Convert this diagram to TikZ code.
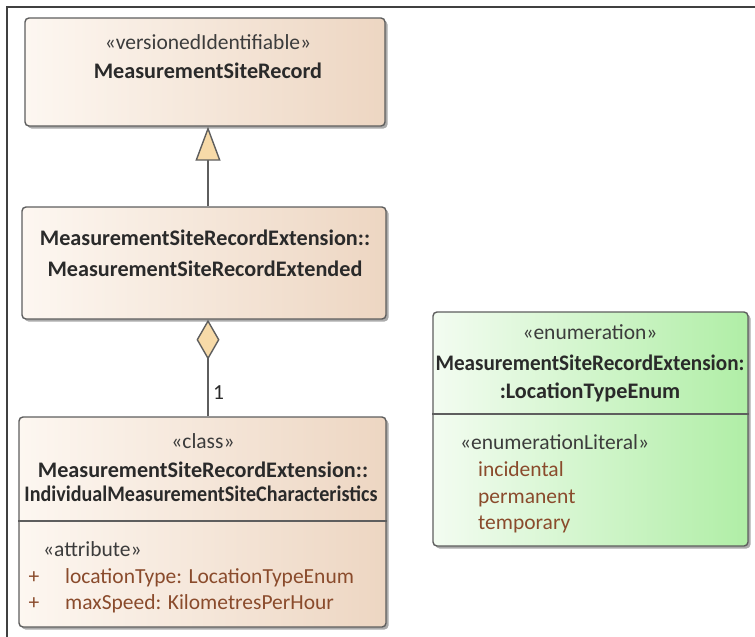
\documentclass[tikz,border=0pt]{standalone}
\usepackage{fontspec}
\setmainfont{Carlito}
\usepackage{graphicx}
\usetikzlibrary{arrows.meta,shadows}
\definecolor{tanL}{HTML}{FDF7F1}
\definecolor{tanR}{HTML}{EDD6C2}
\definecolor{grnL}{HTML}{F3FCF1}
\definecolor{grnR}{HTML}{B0EEA6}
\definecolor{bord}{HTML}{5E5E5E}
\definecolor{shad}{HTML}{ABABAB}
\definecolor{attr}{HTML}{8A4B2C}
\definecolor{tipfill}{HTML}{F7DAA8}
\definecolor{txtc}{HTML}{2A2A2A}
\definecolor{stc}{HTML}{3C3C3C}
\tikzset{
  boxbase/.style={draw=bord, line width=1.4pt, rounded corners=4pt, inner sep=0pt,
    drop shadow={shadow xshift=2.5pt, shadow yshift=-2.5pt, fill=shad, opacity=1}},
  tanbox/.style={boxbase, left color=tanL, right color=tanR},
  grnbox/.style={boxbase, left color=grnL, right color=grnR},
  divider/.style={draw=bord, line width=1.4pt},
  conn/.style={draw=bord, line width=1.4pt},
  tf/.style={inner sep=0pt, anchor=base, font=\fontsize{21.5}{25}\selectfont},
  sttxt/.style={tf, text=stc},
  nmtxt/.style={tf, text=txtc, font=\fontsize{22.2}{26}\selectfont\bfseries},
  attxt/.style={tf, text=attr, anchor=base west},
  frame/.style={draw=black!75, line width=1.6pt}
}
\begin{document}
\begin{tikzpicture}[x=1pt,y=-1pt]
\useasboundingbox (0,0) rectangle (755,637);
\fill[white] (0,0) rectangle (755,637);
\coordinate (fo) at (7,7);
\coordinate (fr) at (755,7);
\coordinate (fb) at (7,637);
\draw[frame] (fr) -- (fo) -- (fb);

% boxes
\node[tanbox, minimum width=360pt, minimum height=108pt] (rec) at (205,72) {};
\node[tanbox, minimum width=364pt, minimum height=112pt] (ext) at (204,263) {};
\node[tanbox, minimum width=367pt, minimum height=210pt] (ind) at (202.5,522) {};
\node[grnbox, minimum width=315pt, minimum height=234pt] (enm) at (590.5,429) {};

\coordinate (d3) at (0,521);
\coordinate (d4) at (0,414);
\draw[divider] (ind.west |- d3) -- (ind.east |- d3);
\draw[divider] (enm.west |- d4) -- (enm.east |- d4);

% connectors
\coordinate (tx) at (208,0);
\draw[conn, -{Triangle[length=34pt, width=25pt, fill=tipfill]}] (ext.north -| tx) -- (rec.south -| tx);
\draw[conn, -{Diamond[length=40pt, width=23pt, fill=tipfill]}] (ind.north -| tx) -- (ext.south -| tx);
\node[tf, anchor=base west, text=txtc] (mult) at (213,399) {1};

% box 1
\node[sttxt] (s1) at (208,49) {«versionedIdentifiable»};
\node[nmtxt] (n1) at (208,78) {MeasurementSiteRecord};
% box 2
\node[nmtxt] (n2a) at (205,245) {MeasurementSiteRecordExtension::};
\node[nmtxt] (n2b) at (205,276) {MeasurementSiteRecordExtended};
% box 3
\node[sttxt] (s3) at (203,448) {«class»};
\node[nmtxt] (n3a) at (203,477) {MeasurementSiteRecordExtension::};
\node[nmtxt] (n3b) at (201,501) {\resizebox{353pt}{\height}{IndividualMeasurementSiteCharacteristics}};
\node[sttxt, anchor=base west] (a3) at (43,556) {«attribute»};
\node[tf, text=attr] (p1) at (34,583) {+};
\node[tf, text=attr] (p2) at (34,609) {+};
\node[attxt] (l1) at (65,583) {locationType: LocationTypeEnum};
\node[attxt] (l2) at (65,609) {maxSpeed: KilometresPerHour};
% box 4
\node[sttxt] (s4) at (590,339) {«enumeration»};
\node[nmtxt] (n4a) at (590,370) {\resizebox{309pt}{\height}{MeasurementSiteRecordExtension:}};
\node[nmtxt] (n4b) at (590,398) {:LocationTypeEnum};
\node[sttxt, anchor=base west] (a4) at (460,449) {«enumerationLiteral»};
\node[attxt] (e1) at (478,476) {incidental};
\node[attxt] (e2) at (478,503) {permanent};
\node[attxt] (e3) at (478,529) {temporary};
\end{tikzpicture}
\end{document}
